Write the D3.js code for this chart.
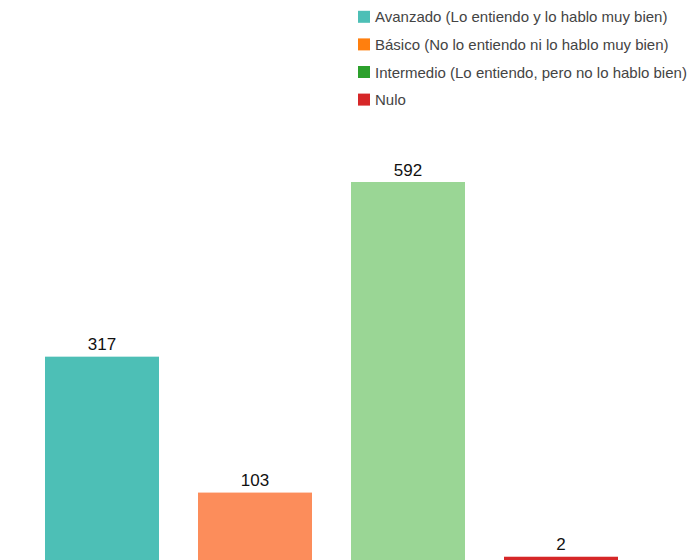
<!DOCTYPE html>
<html>
<head>
<meta charset="utf-8">
<script src="https://cdn.jsdelivr.net/npm/d3@7"></script>
<style>
  html, body { margin: 0; padding: 0; background: #fff; }
  svg { display: block; font-family: "Liberation Sans", Arial, Helvetica, sans-serif; }
</style>
</head>
<body>
<svg id="chart" width="693" height="560"></svg>
<script>
// Nivel de comprensión / habla del idioma
const categories = ["Avanzado", "Básico", "Intermedio", "Nulo"];
const legendLabels = [
  "Avanzado (Lo entiendo y lo hablo muy bien)",
  "Básico (No lo entiendo ni lo hablo muy bien)",
  "Intermedio (Lo entiendo, pero no lo hablo bien)",
  "Nulo"
];
const counts = [317, 103, 592, 2];
const barColors = ["#4dbfb6", "#fc8d5b", "#9ad695", "#d62728"];
const legendColors = ["#4dbfb6", "#ff7f0e", "#2ca02c", "#d62728"];

const width = 693, height = 560;
const svg = d3.select("#chart");

const x = d3.scaleBand()
  .domain(categories)
  .range([25.5, 637.5])
  .paddingInner(0.255)
  .paddingOuter(0.1275);

const y = d3.scaleLinear()
  .domain([0, 592])
  .range([558, 182]);

// bars run off the bottom edge of the view
const bars = svg.append("g");
bars.selectAll("rect")
  .data(counts)
  .join("rect")
  .attr("x", (d, i) => x(categories[i]))
  .attr("y", d => y(d))
  .attr("width", x.bandwidth())
  .attr("height", d => height + 2 - y(d))
  .attr("fill", (d, i) => barColors[i]);

bars.selectAll("text")
  .data(counts)
  .join("text")
  .attr("x", (d, i) => x(categories[i]) + x.bandwidth() / 2)
  .attr("y", d => y(d) - 6.5)
  .attr("text-anchor", "middle")
  .attr("font-size", 17)
  .attr("fill", "#111")
  .text(d => d);

// legend
const legend = svg.append("g").attr("transform", "translate(358,0)");
const rowY = d3.scalePoint().domain(d3.range(legendLabels.length)).range([16.8, 99.6]);
const item = legend.selectAll("g")
  .data(legendLabels)
  .join("g")
  .attr("transform", (d, i) => `translate(0,${rowY(i)})`);
item.append("rect")
  .attr("x", 0).attr("y", -6)
  .attr("width", 12).attr("height", 12)
  .attr("fill", (d, i) => legendColors[i]);
item.append("text")
  .attr("x", 17).attr("y", 5.5)
  .attr("font-size", 15)
  .attr("fill", "#444")
  .text(d => d);
</script>
</body>
</html>
